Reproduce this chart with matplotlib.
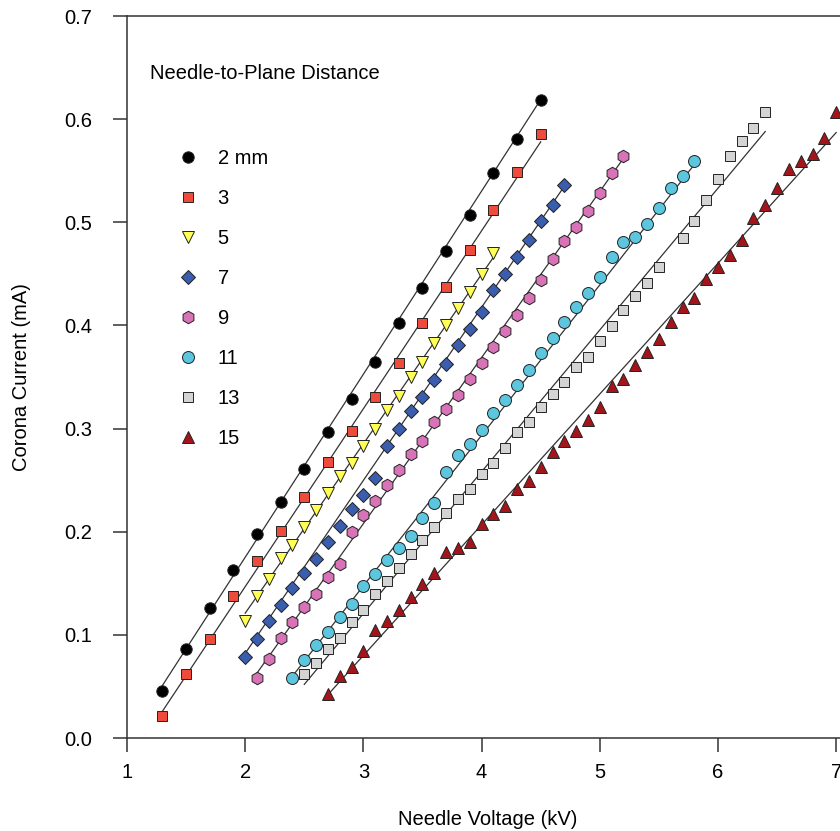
import numpy as np
import matplotlib
matplotlib.use('Agg')
import matplotlib.pyplot as plt

plt.rcParams['font.family'] = ['Liberation Sans', 'DejaVu Sans']

# gap distance (mm) -> voltage (kV) / current (mA)
v2 = [1.3, 1.5, 1.7, 1.9, 2.1, 2.3, 2.5, 2.7, 2.9, 3.1, 3.3, 3.5, 3.7, 3.9, 4.1, 4.3, 4.5]
i2 = [0.046, 0.086, 0.126, 0.163, 0.198, 0.229, 0.261, 0.297, 0.329, 0.365, 0.402, 0.436,
      0.472, 0.507, 0.548, 0.581, 0.619]

v3 = [1.3, 1.5, 1.7, 1.9, 2.1, 2.3, 2.5, 2.7, 2.9, 3.1, 3.3, 3.5, 3.7, 3.9, 4.1, 4.3, 4.5]
i3 = [0.021, 0.062, 0.096, 0.138, 0.172, 0.201, 0.234, 0.268, 0.298, 0.331, 0.364, 0.402,
      0.437, 0.473, 0.512, 0.549, 0.586]

v5 = [2.0, 2.1, 2.2, 2.3, 2.4, 2.5, 2.6, 2.7, 2.8, 2.9, 3.0, 3.1, 3.2, 3.3, 3.4, 3.5, 3.6,
      3.7, 3.8, 3.9, 4.0, 4.1]
i5 = [0.113, 0.138, 0.154, 0.175, 0.187, 0.205, 0.221, 0.238, 0.254, 0.267, 0.283, 0.300,
      0.318, 0.332, 0.350, 0.365, 0.383, 0.400, 0.417, 0.432, 0.450, 0.470]

v7 = [2.0, 2.1, 2.2, 2.3, 2.4, 2.5, 2.6, 2.7, 2.8, 2.9, 3.0, 3.1, 3.2, 3.3, 3.4, 3.5, 3.6,
      3.7, 3.8, 3.9, 4.0, 4.1, 4.2, 4.3, 4.4, 4.5, 4.6, 4.7]
i7 = [0.079, 0.096, 0.113, 0.129, 0.145, 0.160, 0.174, 0.190, 0.206, 0.222, 0.236, 0.252,
      0.283, 0.300, 0.317, 0.331, 0.347, 0.363, 0.381, 0.397, 0.413, 0.434, 0.450, 0.466,
      0.483, 0.501, 0.517, 0.536]

v9 = [2.1, 2.2, 2.3, 2.4, 2.5, 2.6, 2.7, 2.8, 2.9, 3.0, 3.1, 3.2, 3.3, 3.4, 3.5, 3.6, 3.7,
      3.8, 3.9, 4.0, 4.1, 4.2, 4.3, 4.4, 4.5, 4.6, 4.7, 4.8, 4.9, 5.0, 5.1, 5.2]
i9 = [0.058, 0.077, 0.097, 0.112, 0.127, 0.140, 0.156, 0.169, 0.200, 0.216, 0.230, 0.245,
      0.260, 0.275, 0.288, 0.306, 0.319, 0.333, 0.348, 0.364, 0.379, 0.395, 0.410, 0.427,
      0.444, 0.464, 0.482, 0.495, 0.511, 0.528, 0.548, 0.564]

v11 = [2.4, 2.5, 2.6, 2.7, 2.8, 2.9, 3.0, 3.1, 3.2, 3.3, 3.4, 3.5, 3.6, 3.7, 3.8, 3.9, 4.0,
       4.1, 4.2, 4.3, 4.4, 4.5, 4.6, 4.7, 4.8, 4.9, 5.0, 5.1, 5.2, 5.3, 5.4, 5.5, 5.6, 5.7, 5.8]
i11 = [0.058, 0.076, 0.090, 0.103, 0.117, 0.130, 0.147, 0.159, 0.173, 0.184, 0.196, 0.213,
       0.228, 0.258, 0.274, 0.285, 0.299, 0.315, 0.328, 0.342, 0.357, 0.373, 0.388, 0.403,
       0.418, 0.431, 0.447, 0.466, 0.481, 0.486, 0.498, 0.514, 0.533, 0.545, 0.559]

v13 = [2.5, 2.6, 2.7, 2.8, 2.9, 3.0, 3.1, 3.2, 3.3, 3.4, 3.5, 3.6, 3.7, 3.8, 3.9, 4.0, 4.1,
       4.2, 4.3, 4.4, 4.5, 4.6, 4.7, 4.8, 4.9, 5.0, 5.1, 5.2, 5.3, 5.4, 5.5, 5.7, 5.8, 5.9,
       6.0, 6.1, 6.2, 6.3, 6.4]
i13 = [0.062, 0.073, 0.086, 0.097, 0.112, 0.124, 0.140, 0.152, 0.165, 0.178, 0.192, 0.205,
       0.218, 0.232, 0.241, 0.256, 0.267, 0.281, 0.297, 0.306, 0.321, 0.334, 0.345, 0.360,
       0.369, 0.385, 0.399, 0.415, 0.429, 0.441, 0.457, 0.485, 0.501, 0.522, 0.542, 0.564,
       0.579, 0.591, 0.607]

v15 = [2.7, 2.8, 2.9, 3.0, 3.1, 3.2, 3.3, 3.4, 3.5, 3.6, 3.7, 3.8, 3.9, 4.0, 4.1, 4.2, 4.3,
       4.4, 4.5, 4.6, 4.7, 4.8, 4.9, 5.0, 5.1, 5.2, 5.3, 5.4, 5.5, 5.6, 5.7, 5.8, 5.9, 6.0,
       6.1, 6.2, 6.3, 6.4, 6.5, 6.6, 6.7, 6.8, 6.9, 7.0]
i15 = [0.043, 0.060, 0.069, 0.084, 0.105, 0.113, 0.124, 0.137, 0.149, 0.160, 0.180, 0.184,
       0.190, 0.207, 0.217, 0.225, 0.241, 0.249, 0.263, 0.277, 0.288, 0.298, 0.308, 0.321,
       0.341, 0.348, 0.362, 0.374, 0.387, 0.403, 0.418, 0.427, 0.445, 0.457, 0.468, 0.483,
       0.504, 0.517, 0.533, 0.552, 0.559, 0.566, 0.582, 0.607]

# fitted lines, start and end points
fit_v0 = [1.3, 1.3, 2.0, 2.0, 2.1, 2.4, 2.5, 2.7]
fit_i0 = [0.051, 0.026, 0.121, 0.082, 0.063, 0.060, 0.052, 0.042]
fit_v1 = [4.5, 4.5, 4.1, 4.7, 5.2, 5.8, 6.4, 7.0]
fit_i1 = [0.619, 0.578, 0.466, 0.535, 0.562, 0.556, 0.588, 0.587]

labels = ['2 mm', '3', '5', '7', '9', '11', '13', '15']
volts = [v2, v3, v5, v7, v9, v11, v13, v15]
currents = [i2, i3, i5, i7, i9, i11, i13, i15]
markers = ['o', 's', 'v', 'D', 'h', 'o', 's', '^']
msizes = [8.2, 7.0, 8.0, 7.0, 9.0, 8.6, 7.2, 8.2]
colors = ['#000000', '#EF4B3C', '#FFFF55', '#3A5DAE', '#D873B8', '#5BC6DE',
          '#D4D4D4', '#A3151B']

FS = 14.5

fig = plt.figure(figsize=(8.4, 8.31), dpi=100)
# right edge of the axes falls just outside the picture, as in the original
ax = fig.add_axes([127/840, 93/831, 721/840, 722/831])

for k in range(len(labels)):
    ax.plot([fit_v0[k], fit_v1[k]], [fit_i0[k], fit_i1[k]], color='#333333',
            lw=0.9, zorder=2)
    ax.plot(volts[k], currents[k], ls='none', marker=markers[k], ms=msizes[k],
            mfc=colors[k], mec='#222222', mew=0.7, label=labels[k], zorder=3,
            clip_on=False)

ax.set_xlim(1, 7.1)
ax.set_ylim(0, 0.7)
ax.set_xticks([1, 2, 3, 4, 5, 6, 7])
ax.set_yticks([0.0, 0.1, 0.2, 0.3, 0.4, 0.5, 0.6, 0.7])
ax.set_yticklabels(['0.0', '0.1', '0.2', '0.3', '0.4', '0.5', '0.6', '0.7'])
ax.tick_params(direction='out', length=10, width=1.1, labelsize=FS, color='#333333')
ax.tick_params(axis='x', pad=8)
ax.tick_params(axis='y', pad=15)

for s in ['top', 'bottom', 'left']:
    ax.spines[s].set_linewidth(1.1)
    ax.spines[s].set_color('#333333')
ax.spines['right'].set_visible(False)

ax.set_xlabel('Needle Voltage (kV)', fontsize=FS, labelpad=20.5)
ax.set_ylabel('Corona Current (mA)', fontsize=FS, labelpad=24)

ax.text(1.195, 0.644, 'Needle-to-Plane Distance', fontsize=FS, ha='left', va='center')
ax.legend(loc='upper left', bbox_to_anchor=(52/721, 0.8154), frameon=False,
          fontsize=FS, numpoints=1, handlelength=0.86, handletextpad=1.06,
          labelspacing=1.04, borderpad=0, borderaxespad=0)

fig.savefig('out.png', dpi=100)
